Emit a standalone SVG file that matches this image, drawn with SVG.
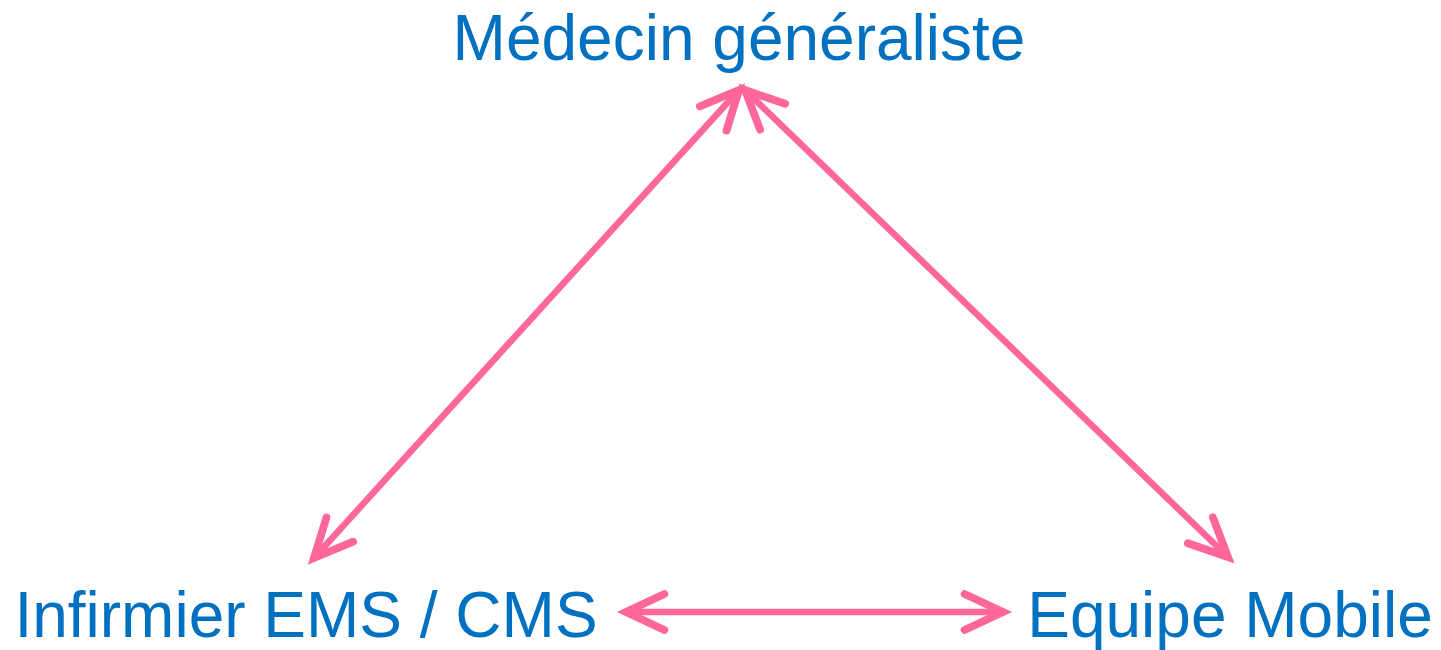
<svg xmlns="http://www.w3.org/2000/svg" width="1441" height="650" viewBox="0 0 1441 650">
<style>
.lbl{font-family:"Liberation Sans",Arial,sans-serif;font-size:64px;fill:#0070C0}
.con{stroke:#FF6699;stroke-width:6.5;fill:none;stroke-linecap:round}
.ah{stroke:#FF6699;stroke-width:6.5;fill:none;stroke-linecap:round;stroke-linejoin:miter}
</style>
<defs>
<marker id="arr" markerUnits="userSpaceOnUse" markerWidth="60" markerHeight="60" viewBox="-40 -25 50 50" refX="0" refY="0" orient="auto-start-reverse" overflow="visible">
<path class="ah" d="M -32 -15 L 0 0 L -32 15"/>
</marker>
</defs>
<rect width="1441" height="650" fill="#FFFFFF"/>
<g id="node-medecin"><text class="lbl" x="739" y="60" text-anchor="middle">Médecin généraliste</text></g>
<g id="node-infirmier"><text class="lbl" x="306" y="637" text-anchor="middle">Infirmier EMS / CMS</text></g>
<g id="node-equipe"><text class="lbl" x="1230" y="637" text-anchor="middle">Equipe Mobile</text></g>
<g id="connectors">
<line class="con" x1="739" y1="90" x2="314" y2="558" marker-start="url(#arr)" marker-end="url(#arr)"/>
<line class="con" x1="745" y1="90" x2="1228" y2="557" marker-start="url(#arr)" marker-end="url(#arr)"/>
<line class="con" x1="626" y1="612" x2="1003" y2="612" marker-start="url(#arr)" marker-end="url(#arr)"/>
</g>
</svg>
